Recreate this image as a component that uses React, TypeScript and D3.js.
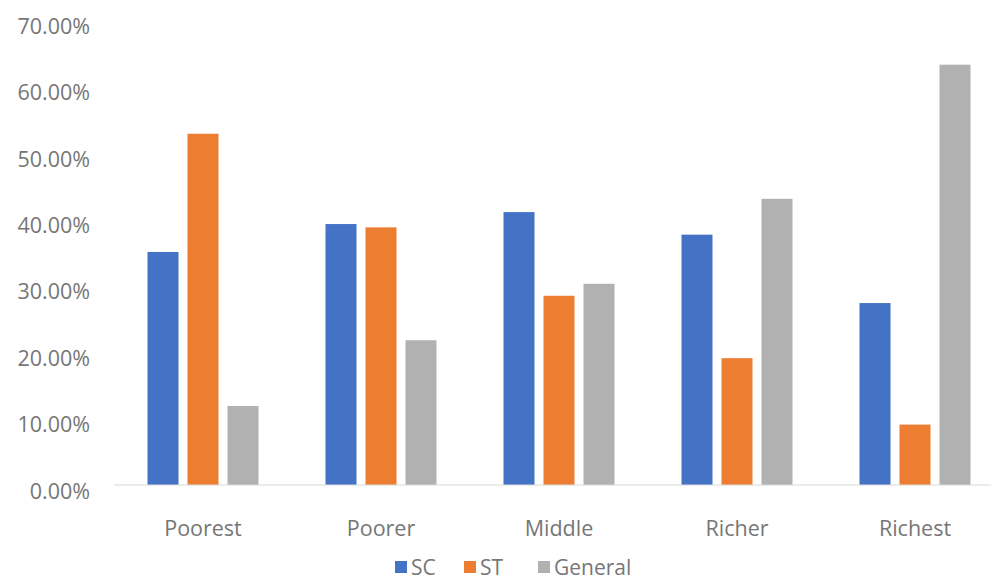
import React from "react";
import * as d3 from "d3";

// Share of each social group falling in every wealth quintile
const categories = ["Poorest", "Poorer", "Middle", "Richer", "Richest"];
const seriesNames = ["SC", "ST", "General"];
const scValues = [0.351, 0.393, 0.411, 0.377, 0.274];
const stValues = [0.529, 0.388, 0.285, 0.191, 0.091];
const generalValues = [0.119, 0.218, 0.303, 0.431, 0.633];
const yTicks = [0, 0.1, 0.2, 0.3, 0.4, 0.5, 0.6, 0.7];
const colors = ["#4472C4", "#ED7D31", "#B1B1B1"];

const W = 991;
const H = 584;
const FONT = "'Open Sans', 'Noto Sans', sans-serif";
const TEXT = "#767676";

export default function App() {
  const series = [scValues, stValues, generalValues];

  const x = d3.scaleBand<string>().domain(categories).range([114, 1004]).padding(0);
  const inner = d3
    .scaleBand<string>()
    .domain(seriesNames)
    .range([-55.5, 55.5])
    .paddingInner(0.225)
    .paddingOuter(0);
  const y = d3.scaleLinear().domain([0, 0.7]).range([485, 20.2]);
  const fmt = d3.format(".2%");

  const legendX = [395, 464, 538];

  return (
    <div style={{ position: "absolute", left: 0, top: 0 }}>
      <svg width={W} height={H} style={{ display: "block", background: "#fff" }}>
        {/* y-axis labels */}
        {yTicks.map((t) => (
          <text
            key={t}
            x={90}
            y={y(t) + 5}
            textAnchor="end"
            dominantBaseline="central"
            fontFamily={FONT}
            fontSize={21.5}
            fill={TEXT}
          >
            {fmt(t)}
          </text>
        ))}

        {/* bars */}
        {categories.map((c, ci) => (
          <g key={c}>
            {series.map((vals, si) => {
              const x0 = (x(c) as number) + x.bandwidth() / 2 + (inner(seriesNames[si]) as number);
              return (
                <rect
                  key={si}
                  x={x0}
                  y={y(vals[ci])}
                  width={inner.bandwidth()}
                  height={y(0) - y(vals[ci])}
                  fill={colors[si]}
                />
              );
            })}
          </g>
        ))}

        {/* category axis */}
        <line x1={x.range()[0]} x2={x.range()[1]} y1={y(0)} y2={y(0)} stroke="#d9d9d9" strokeWidth={1.2} />
        {categories.map((c) => (
          <text
            key={c}
            x={(x(c) as number) + x.bandwidth() / 2}
            y={527}
            textAnchor="middle"
            dominantBaseline="central"
            fontFamily={FONT}
            fontSize={21.5}
            fill={TEXT}
          >
            {c}
          </text>
        ))}

        {/* legend */}
        {seriesNames.map((s, i) => (
          <g key={s} transform={`translate(${legendX[i]},0)`}>
            <rect x={0} y={561} width={12} height={12} fill={colors[i]} />
            <text
              x={16}
              y={567}
              dominantBaseline="central"
              fontFamily={FONT}
              fontSize={21}
              fill={TEXT}
            >
              {s}
            </text>
          </g>
        ))}
      </svg>
    </div>
  );
}
